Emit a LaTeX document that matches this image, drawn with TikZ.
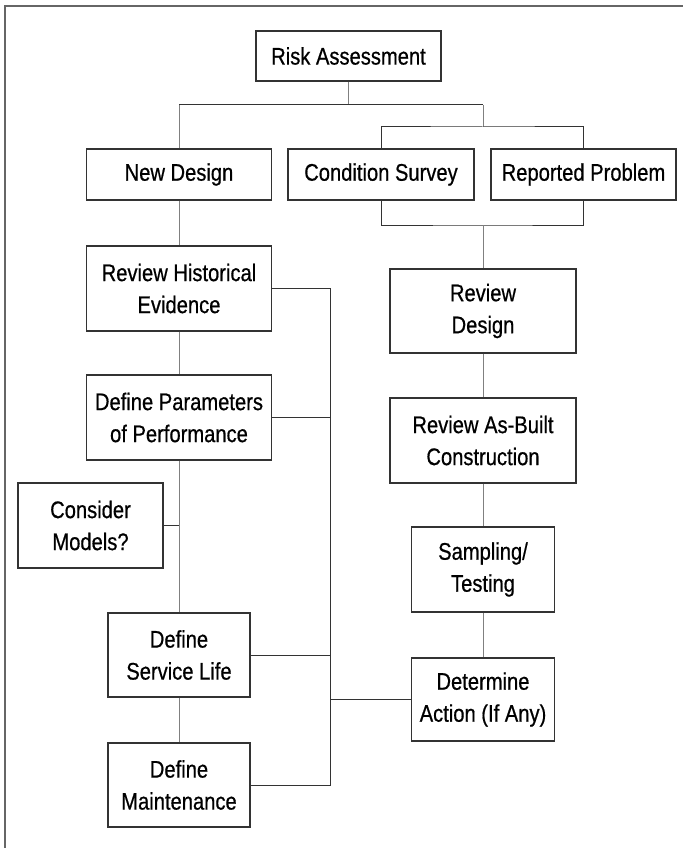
\documentclass[tikz,border=0pt]{standalone}
\usepackage{fontspec}
\setmainfont{Liberation Sans}[FakeStretch=0.84,FakeBold=0.6]
\begin{document}
\begin{tikzpicture}[x=1pt,y=-1pt,
  box/.style={draw=black!80,line width=1.3pt,fill=white,inner sep=0pt,align=center,
    font=\fontsize{24}{32}\selectfont},
  conn/.style={draw=black!80,line width=1pt},
  vconn/.style={draw=black!50,line width=0.9pt}]
\useasboundingbox (0,0) rectangle (683,848);
\draw[draw=black!60,line width=1.4pt] (5,848) -- (5,6) -- (683,6);
% nodes
\node[box,minimum width=185pt,minimum height=50pt] (ra) at (348.5,56) {Risk Assessment};
\node[box,minimum width=185pt,minimum height=51pt] (nd) at (179,174.5) {New Design};
\node[box,minimum width=186pt,minimum height=51pt] (cs) at (381,174.5) {Condition Survey};
\node[box,minimum width=185pt,minimum height=51pt] (rp) at (583.5,174.5) {Reported Problem};
\node[box,minimum width=185pt,minimum height=85pt] (rhe) at (179,288.5) {Review Historical\\Evidence};
\node[box,minimum width=186pt,minimum height=84pt] (rd) at (483,311) {Review\\Design};
\node[box,minimum width=185pt,minimum height=85pt] (dpp) at (179,417.5) {Define Parameters\\of Performance};
\node[box,minimum width=186pt,minimum height=85pt] (rab) at (483,440.5) {Review As-Built\\Construction};
\node[box,minimum width=145pt,minimum height=85pt] (cm) at (90.5,525.5) {Consider\\Models?};
\node[box,minimum width=143pt,minimum height=85pt] (st) at (483,569.5) {Sampling/\\Testing};
\node[box,minimum width=142pt,minimum height=84pt] (dsl) at (179,655) {Define\\Service Life};
\node[box,minimum width=143pt,minimum height=83pt] (da) at (483,699.5) {Determine\\Action (If Any)};
\node[box,minimum width=142pt,minimum height=84pt] (dm) at (179,785) {Define\\Maintenance};
% junctions
\coordinate (j1) at (348.5,105);
\coordinate (j2) at (483,127);
\coordinate (j3) at (483,225);
\coordinate (sp) at (330,288.5);
% top tree
\draw[vconn] (ra.south) -- (j1);
\draw[vconn] (nd.north) -- (nd.north |- j1);
\draw[vconn] (j2 |- j1) -- (j2);
\draw[conn] (nd.north |- j1) -- (j2 |- j1);
\draw[conn] (cs.north) |- (j2) -| (rp.north);
\draw[conn] (cs.south) |- (j3) -| (rp.south);
\draw[vconn] (j3) -- (rd.north);
% left column
\draw[vconn] (nd) -- (rhe);
\draw[vconn] (rhe) -- (dpp);
\draw[vconn] (dpp) -- (dsl);
\draw[vconn] (dsl) -- (dm);
\draw[conn] (cm.east) -- (cm.east -| dpp.south);
% right column
\draw[vconn] (rd) -- (rab);
\draw[vconn] (rab) -- (st);
\draw[vconn] (st) -- (da);
% spine
\draw[conn] (rhe.east) -- (sp) -- (dm.east -| sp) -- (dm.east);
\draw[conn] (dpp.east) -- (dpp.east -| sp);
\draw[conn] (dsl.east) -- (dsl.east -| sp);
\draw[conn] (da.west) -- (da.west -| sp);
\end{tikzpicture}
\end{document}
